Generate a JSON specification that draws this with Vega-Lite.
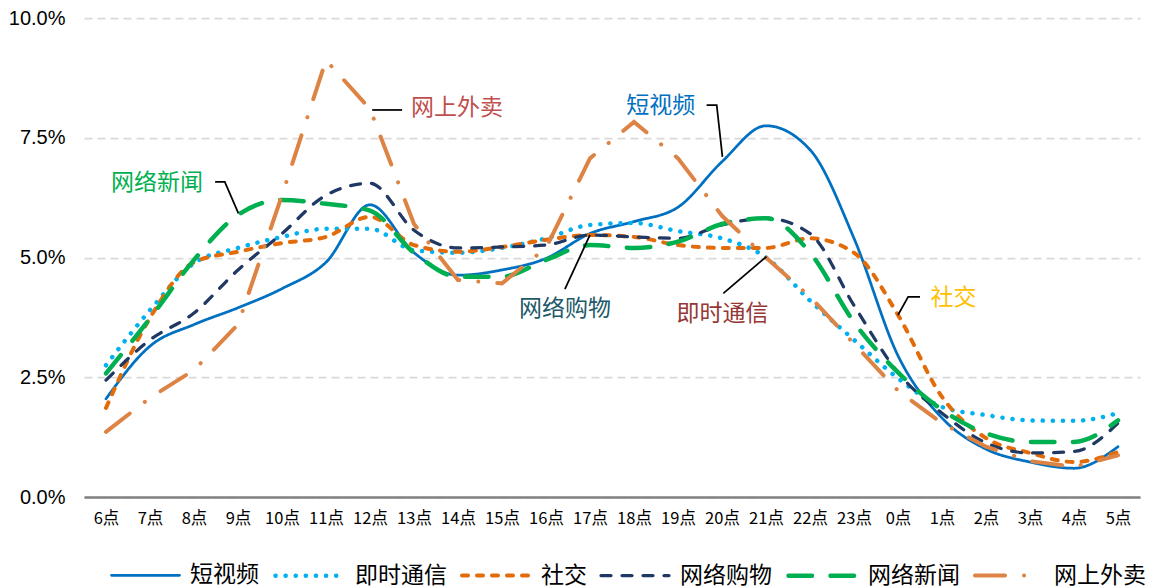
{
  "$schema": "https://vega.github.io/schema/vega-lite/v6.json",
  "width": 1056,
  "height": 479,
  "autosize": {"type": "none"},
  "padding": {"left": 84, "top": 18, "right": 12, "bottom": 91},
  "background": "white",
  "config": {
    "view": {"stroke": null},
    "font": "Noto Sans CJK SC",
    "legend": {
      "orient": "none",
      "legendX": 26,
      "legendY": 521,
      "direction": "horizontal",
      "title": null,
      "symbolType": "stroke",
      "symbolSize": 4624,
      "labelFontSize": 23,
      "labelFont": "Noto Sans CJK SC",
      "labelColor": "#000000",
      "labelOffset": 9,
      "columnPadding": 7,
      "padding": 0,
      "labelLimit": 0
    }
  },
  "datasets": {
    "series": [
      {"s":"短视频","h":0,"v":2.05},{"s":"短视频","h":1,"v":3.15},{"s":"短视频","h":2,"v":3.6},{"s":"短视频","h":3,"v":3.95},{"s":"短视频","h":4,"v":4.35},{"s":"短视频","h":5,"v":4.9},{"s":"短视频","h":6,"v":6.1},{"s":"短视频","h":7,"v":5.1},{"s":"短视频","h":8,"v":4.63},{"s":"短视频","h":9,"v":4.74},{"s":"短视频","h":10,"v":4.98},{"s":"短视频","h":11,"v":5.5},{"s":"短视频","h":12,"v":5.75},{"s":"短视频","h":13,"v":6.05},{"s":"短视频","h":14,"v":7.0},{"s":"短视频","h":15,"v":7.75},{"s":"短视频","h":16,"v":7.25},{"s":"短视频","h":17,"v":5.4},{"s":"短视频","h":18,"v":2.95},{"s":"短视频","h":19,"v":1.65},{"s":"短视频","h":20,"v":1.0},{"s":"短视频","h":21,"v":0.73},{"s":"短视频","h":22,"v":0.6},{"s":"短视频","h":23,"v":1.05},
      {"s":"即时通信","h":0,"v":2.75},{"s":"即时通信","h":1,"v":3.9},{"s":"即时通信","h":2,"v":4.88},{"s":"即时通信","h":3,"v":5.2},{"s":"即时通信","h":4,"v":5.43},{"s":"即时通信","h":5,"v":5.6},{"s":"即时通信","h":6,"v":5.6},{"s":"即时通信","h":7,"v":5.15},{"s":"即时通信","h":8,"v":5.1},{"s":"即时通信","h":9,"v":5.2},{"s":"即时通信","h":10,"v":5.4},{"s":"即时通信","h":11,"v":5.68},{"s":"即时通信","h":12,"v":5.72},{"s":"即时通信","h":13,"v":5.55},{"s":"即时通信","h":14,"v":5.4},{"s":"即时通信","h":15,"v":5.0},{"s":"即时通信","h":16,"v":4.1},{"s":"即时通信","h":17,"v":3.28},{"s":"即时通信","h":18,"v":2.48},{"s":"即时通信","h":19,"v":1.88},{"s":"即时通信","h":20,"v":1.71},{"s":"即时通信","h":21,"v":1.6},{"s":"即时通信","h":22,"v":1.59},{"s":"即时通信","h":23,"v":1.75},
      {"s":"社交","h":0,"v":1.86},{"s":"社交","h":1,"v":3.74},{"s":"社交","h":2,"v":4.9},{"s":"社交","h":3,"v":5.12},{"s":"社交","h":4,"v":5.3},{"s":"社交","h":5,"v":5.43},{"s":"社交","h":6,"v":5.85},{"s":"社交","h":7,"v":5.26},{"s":"社交","h":8,"v":5.12},{"s":"社交","h":9,"v":5.22},{"s":"社交","h":10,"v":5.37},{"s":"社交","h":11,"v":5.47},{"s":"社交","h":12,"v":5.43},{"s":"社交","h":13,"v":5.26},{"s":"社交","h":14,"v":5.2},{"s":"社交","h":15,"v":5.2},{"s":"社交","h":16,"v":5.4},{"s":"社交","h":17,"v":5.1},{"s":"社交","h":18,"v":3.8},{"s":"社交","h":19,"v":2.09},{"s":"社交","h":20,"v":1.23},{"s":"社交","h":21,"v":0.92},{"s":"社交","h":22,"v":0.73},{"s":"社交","h":23,"v":0.94},
      {"s":"网络购物","h":0,"v":2.44},{"s":"网络购物","h":1,"v":3.28},{"s":"网络购物","h":2,"v":3.84},{"s":"网络购物","h":3,"v":4.74},{"s":"网络购物","h":4,"v":5.5},{"s":"网络购物","h":5,"v":6.3},{"s":"网络购物","h":6,"v":6.55},{"s":"网络购物","h":7,"v":5.57},{"s":"网络购物","h":8,"v":5.2},{"s":"网络购物","h":9,"v":5.22},{"s":"网络购物","h":10,"v":5.26},{"s":"网络购物","h":11,"v":5.47},{"s":"网络购物","h":12,"v":5.43},{"s":"网络购物","h":13,"v":5.4},{"s":"网络购物","h":14,"v":5.68},{"s":"网络购物","h":15,"v":5.82},{"s":"网络购物","h":16,"v":5.5},{"s":"网络购物","h":17,"v":4.0},{"s":"网络购物","h":18,"v":2.6},{"s":"网络购物","h":19,"v":1.75},{"s":"网络购物","h":20,"v":1.13},{"s":"网络购物","h":21,"v":0.92},{"s":"网络购物","h":22,"v":0.95},{"s":"网络购物","h":23,"v":1.54},
      {"s":"网络新闻","h":0,"v":2.58},{"s":"网络新闻","h":1,"v":3.73},{"s":"网络新闻","h":2,"v":4.95},{"s":"网络新闻","h":3,"v":5.89},{"s":"网络新闻","h":4,"v":6.2},{"s":"网络新闻","h":5,"v":6.12},{"s":"网络新闻","h":6,"v":5.98},{"s":"网络新闻","h":7,"v":5.1},{"s":"网络新闻","h":8,"v":4.6},{"s":"网络新闻","h":9,"v":4.6},{"s":"网络新闻","h":10,"v":4.95},{"s":"网络新闻","h":11,"v":5.26},{"s":"网络新闻","h":12,"v":5.2},{"s":"网络新闻","h":13,"v":5.33},{"s":"网络新闻","h":14,"v":5.7},{"s":"网络新闻","h":15,"v":5.82},{"s":"网络新闻","h":16,"v":5.1},{"s":"网络新闻","h":17,"v":3.65},{"s":"网络新闻","h":18,"v":2.6},{"s":"网络新闻","h":19,"v":1.82},{"s":"网络新闻","h":20,"v":1.33},{"s":"网络新闻","h":21,"v":1.15},{"s":"网络新闻","h":22,"v":1.15},{"s":"网络新闻","h":23,"v":1.6},
      {"s":"网上外卖","h":0,"v":1.36},{"s":"网上外卖","h":1,"v":2.07},{"s":"网上外卖","h":2,"v":2.65},{"s":"网上外卖","h":3,"v":3.6},{"s":"网上外卖","h":4,"v":6.3},{"s":"网上外卖","h":5,"v":9.12},{"s":"网上外卖","h":6,"v":8.1},{"s":"网上外卖","h":7,"v":5.7},{"s":"网上外卖","h":8,"v":4.53},{"s":"网上外卖","h":9,"v":4.46},{"s":"网上外卖","h":10,"v":5.2},{"s":"网上外卖","h":11,"v":7.07},{"s":"网上外卖","h":12,"v":7.83},{"s":"网上外卖","h":13,"v":7.07},{"s":"网上外卖","h":14,"v":5.87},{"s":"网上外卖","h":15,"v":5.0},{"s":"网上外卖","h":16,"v":4.18},{"s":"网上外卖","h":17,"v":3.2},{"s":"网上外卖","h":18,"v":2.22},{"s":"网上外卖","h":19,"v":1.54},{"s":"网上外卖","h":20,"v":1.05},{"s":"网上外卖","h":21,"v":0.75},{"s":"网上外卖","h":22,"v":0.63},{"s":"网上外卖","h":23,"v":0.87}
    ],
    "labels": [
      {"label":"网上外卖","x":7.98,"y":8.12},
      {"label":"短视频","x":12.61,"y":8.16},
      {"label":"网络新闻","x":1.16,"y":6.56},
      {"label":"网络购物","x":10.43,"y":3.92},
      {"label":"即时通信","x":14.01,"y":3.82},
      {"label":"社交","x":19.26,"y":4.16}
    ],
    "connectors": [
      {"id":"网上外卖","o":0,"x":6.05,"y":8.08},{"id":"网上外卖","o":1,"x":6.73,"y":8.08},
      {"id":"短视频","o":0,"x":13.65,"y":8.18},{"id":"短视频","o":1,"x":13.88,"y":8.18},{"id":"短视频","o":2,"x":14.01,"y":7.1},
      {"id":"网络新闻","o":0,"x":2.48,"y":6.58},{"id":"网络新闻","o":1,"x":2.7,"y":6.58},{"id":"网络新闻","o":2,"x":3.01,"y":5.92},
      {"id":"网络购物","o":0,"x":10.43,"y":4.34},{"id":"网络购物","o":1,"x":11.0,"y":5.47},
      {"id":"即时通信","o":0,"x":14.03,"y":4.25},{"id":"即时通信","o":1,"x":15.01,"y":5.02},
      {"id":"社交","o":0,"x":18.5,"y":4.18},{"id":"社交","o":1,"x":18.23,"y":4.18},{"id":"社交","o":2,"x":18.0,"y":3.8}
    ]
  },
  "encoding": {
    "x": {
      "type": "quantitative",
      "scale": {"domain": [-0.5, 23.5], "nice": false, "zero": false},
      "axis": {
        "title": null,
        "values": [0,1,2,3,4,5,6,7,8,9,10,11,12,13,14,15,16,17,18,19,20,21,22,23],
        "labelExpr": "((datum.value + 6) % 24) + '点'",
        "grid": false,
        "ticks": false,
        "domainColor": "#808080",
        "domainWidth": 2.5,
        "labelFontSize": 16.5,
        "labelFont": "Noto Sans CJK SC",
        "labelColor": "#000000",
        "labelPadding": 13,
        "labelFlush": false,
        "labelOverlap": false
      }
    },
    "y": {
      "type": "quantitative",
      "scale": {"domain": [0, 10], "nice": false},
      "axis": {
        "title": null,
        "values": [0, 2.5, 5, 7.5, 10],
        "labelExpr": "format(datum.value, '.1f') + '%'",
        "grid": true,
        "gridColor": "#D9D9D9",
        "gridWidth": 1.75,
        "gridDash": [8, 5],
        "domain": false,
        "ticks": false,
        "labelFontSize": 20,
        "labelFont": "Liberation Sans",
        "labelColor": "#000000",
        "labelPadding": 19
      }
    }
  },
  "layer": [
    {
      "data": {"name": "series"},
      "encoding": {
        "x": {"field": "h"},
        "y": {"field": "v"},
        "color": {"field": "s", "type": "nominal", "scale": {"domain": ["短视频","即时通信","社交","网络购物","网络新闻","网上外卖"], "range": ["#0070C0","#00B0F0","#E36C0A","#1F3864","#00B050","#DD8344"]}, "legend": {"encoding": {"symbols": {"strokeCap": {"value": "round"}}}}},
        "strokeDash": {"field": "s", "type": "nominal", "scale": {"domain": ["短视频","即时通信","社交","网络购物","网络新闻","网上外卖"], "range": [[1,0],[0.1,10],[6,9],[10,11],[23.5,18.5],[30,19,0.1,19]]}, "legend": {"encoding": {"symbols": {"strokeCap": {"value": "round"}}}}},
        "strokeWidth": {"field": "s", "type": "nominal", "scale": {"type": "ordinal", "domain": ["短视频","即时通信","社交","网络购物","网络新闻","网上外卖"], "range": [2.75,4.5,4,3.25,4.5,4]}, "legend": {"encoding": {"symbols": {"strokeCap": {"value": "round"}}}}}
      },
      "layer": [
        {
          "transform": [{"filter": "datum.s !== '网上外卖'"}],
          "mark": {"type": "line", "interpolate": "monotone", "strokeCap": "round"}
        },
        {
          "transform": [{"filter": "datum.s === '网上外卖'"}],
          "mark": {"type": "line", "interpolate": "linear", "strokeCap": "round"}
        }
      ]
    },
    {
      "data": {"name": "connectors"},
      "mark": {"type": "line", "color": "#000000", "strokeWidth": 1.75},
      "encoding": {
        "x": {"field": "x"},
        "y": {"field": "y"},
        "detail": {"field": "id", "type": "nominal"},
        "order": {"field": "o", "type": "quantitative"}
      }
    },
    {
      "data": {"name": "labels"},
      "mark": {"type": "text", "fontSize": 23, "font": "Noto Sans CJK SC", "align": "center", "baseline": "middle"},
      "encoding": {
        "x": {"field": "x"},
        "y": {"field": "y"},
        "text": {"field": "label"},
        "fill": {"field": "label", "type": "nominal", "legend": null, "scale": {"domain": ["网上外卖","短视频","网络新闻","网络购物","即时通信","社交"], "range": ["#C0504D","#0070C0","#00B050","#215968","#953735","#FFC000"]}}
      }
    }
  ]
}
